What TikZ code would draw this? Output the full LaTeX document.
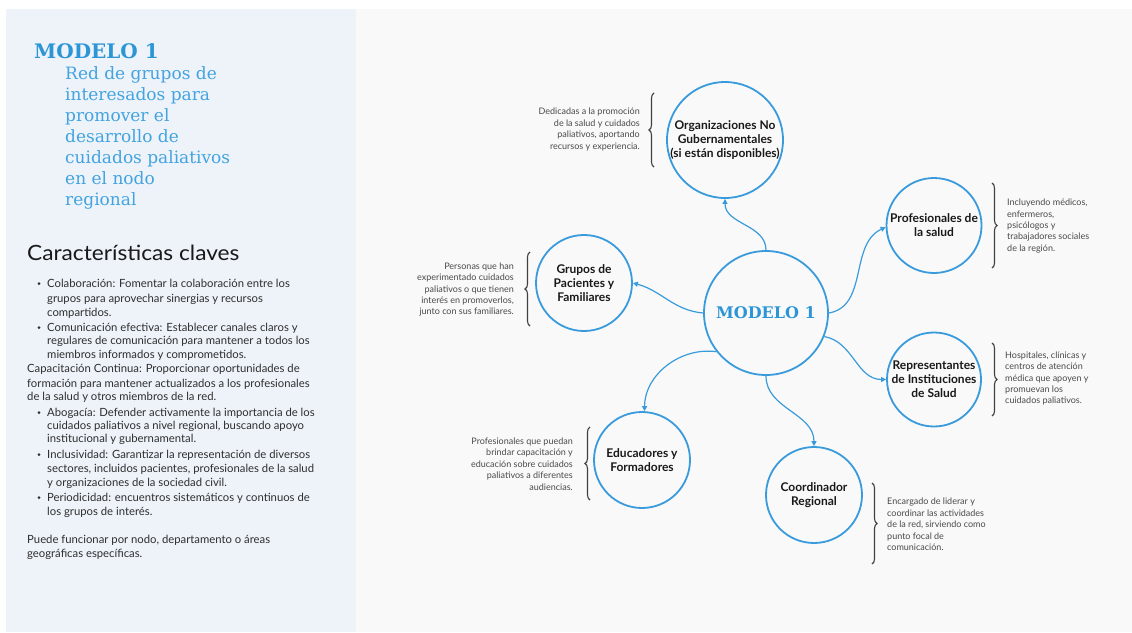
\documentclass[tikz,border=0pt]{standalone}
\usepackage{fontspec}
\setmainfont{Lato}
\newfontfamily\slab{DejaVu Serif}
\newfontfamily\widesans[FakeStretch=1.08]{Lato}
\usetikzlibrary{arrows.meta,decorations.pathreplacing}
\definecolor{leftbg}{HTML}{EEF3FA}
\definecolor{rightbg}{HTML}{F9F9F9}
\definecolor{lineblue}{HTML}{3A9BDC}
\definecolor{titleblue}{HTML}{2B95D6}
\definecolor{subblue}{HTML}{42A3E0}
\definecolor{bodytxt}{HTML}{2E2E2E}
\definecolor{desctxt}{HTML}{4A4A4A}
\tikzset{
  hub/.style={circle, draw=lineblue, line width=1.8pt, fill=rightbg, inner sep=0pt, align=center,
    font=\bfseries\fontsize{12}{14}\selectfont, text=black!90},
  link/.style={draw=lineblue, line width=1.2pt, -{Triangle[length=5pt,width=5pt]}},
  desc/.style={font=\fontsize{9}{11.4}\selectfont, text=desctxt, inner sep=0pt},
  brc/.style={decorate, decoration={brace, amplitude=5pt}, line width=1.1pt, draw=black!75},
  ln/.style={anchor=base west, inner sep=0pt, font=\fontsize{11.3}{14}\selectfont, text=bodytxt},
  sub/.style={anchor=base west, inner sep=0pt, font=\slab\fontsize{17}{21}\selectfont, text=subblue},
  dot/.style={circle, fill=bodytxt, inner sep=0pt, minimum size=3pt}
}
\begin{document}
\begin{tikzpicture}[x=1pt,y=1pt]
\useasboundingbox (0,-632) rectangle (1132,0);
\fill[white] (0,-632) rectangle (1132,0);
\fill[leftbg] (6,-632) rectangle (356,-9);
\fill[rightbg] (356,-632) rectangle (1132,-9);

% left panel
\node[anchor=base west, inner sep=0pt, font=\slab\bfseries\fontsize{20}{24}\selectfont, text=titleblue] (t1) at (34,-58.3) {MODELO 1};
\node[sub] (s1) at (65,-79) {Red de grupos de};
\node[sub] (s2) at (65,-100) {interesados para};
\node[sub] (s3) at (65,-121) {promover el};
\node[sub] (s4) at (65,-142) {desarrollo de};
\node[sub] (s5) at (65,-163) {cuidados paliativos};
\node[sub] (s6) at (65,-184) {en el nodo};
\node[sub] (s7) at (65,-205) {regional};

\node[anchor=base west, inner sep=0pt, font=\widesans\fontsize{21}{24}\selectfont, text=black!90] (hd) at (27,-260.7) {Características claves};

\node[dot] (b1) at (39,-283.5) {};
\node[ln] (l1) at (47,-287) {Colaboración: Fomentar la colaboración entre los};
\node[ln] (l2) at (47,-302) {grupos para aprovechar sinergias y recursos};
\node[ln] (l3) at (47,-316) {compartidos.};
\node[dot] (b2) at (39,-327.5) {};
\node[ln] (l4) at (47,-331) {Comunicación efectiva: Establecer canales claros y};
\node[ln] (l5) at (47,-344) {regulares de comunicación para mantener a todos los};
\node[ln] (l6) at (47,-358) {miembros informados y comprometidos.};
\node[ln] (l7) at (27,-372) {Capacitación Continua: Proporcionar oportunidades de};
\node[ln] (l8) at (27,-387) {formación para mantener actualizados a los profesionales};
\node[ln] (l9) at (27,-400) {de la salud y otros miembros de la red.};
\node[dot] (b3) at (39,-412.5) {};
\node[ln] (l10) at (47,-416) {Abogacía: Defender activamente la importancia de los};
\node[ln] (l11) at (47,-429) {cuidados paliativos a nivel regional, buscando apoyo};
\node[ln] (l12) at (47,-442) {institucional y gubernamental.};
\node[dot] (b4) at (39,-454.5) {};
\node[ln] (l13) at (47,-458) {Inclusividad: Garantizar la representación de diversos};
\node[ln] (l14) at (47,-472) {sectores, incluidos pacientes, profesionales de la salud};
\node[ln] (l15) at (47,-486) {y organizaciones de la sociedad civil.};
\node[dot] (b5) at (39,-497.5) {};
\node[ln] (l16) at (47,-501) {Periodicidad: encuentros sistemáticos y continuos de};
\node[ln] (l17) at (47,-515) {los grupos de interés.};
\node[ln] (l18) at (27,-543) {Puede funcionar por nodo, departamento o áreas};
\node[ln] (l19) at (27,-557) {geográficas específicas.};

% diagram nodes
\node[hub, minimum size=124pt, font=\slab\bfseries\fontsize{16}{18}\selectfont, text=titleblue] (c) at (766,-313) {MODELO 1};
\node[hub, minimum size=116pt] (ong) at (725,-140) {Organizaciones No\\Gubernamentales\\(si están disponibles)};
\node[hub, minimum size=95pt] (prof) at (934,-225.5) {Profesionales de\\la salud};
\node[hub, minimum size=96pt] (grp) at (584,-283) {Grupos de\\Pacientes y\\Familiares};
\node[hub, minimum size=94pt] (repr) at (934,-379.5) {Representantes\\de Instituciones\\de Salud};
\node[hub, minimum size=96pt] (edu) at (642,-460) {Educadores y\\Formadores};
\node[hub, minimum size=96pt] (coord) at (814,-495) {Coordinador\\Regional};

% connectors
\draw[link] (c.90) to[out=90,in=-90] (ong.270);
\draw[link] (c.0) to[out=10,in=205] (prof.182);
\draw[link] (c.-22) to[out=-10,in=180] (repr.180);
\draw[link] (c.180) to[out=175,in=-15] (grp.0);
\draw[link] (c.218) to[out=172,in=90] (edu.87);
\draw[link] (c.270) to[out=-90,in=90] (coord.90);

% descriptions
\node[desc, align=right, anchor=east] (dong) at (640,-129.5) {Dedicadas a la promoción\\de la salud y cuidados\\paliativos, aportando\\recursos y experiencia.};
\node[desc, align=right, anchor=east] (dgrp) at (514,-289.5) {Personas que han\\experimentado cuidados\\paliativos o que tienen\\interés en promoverlos,\\junto con sus familiares.};
\node[desc, align=left, anchor=west] (dprof) at (1007,-226) {Incluyendo médicos,\\enfermeros,\\psicólogos y\\trabajadores sociales\\de la región.};
\node[desc, align=left, anchor=west] (drepr) at (1005,-378.5) {Hospitales, clínicas y\\centros de atención\\médica que apoyen y\\promuevan los\\cuidados paliativos.};
\node[desc, align=right, anchor=east] (dedu) at (573,-464) {Profesionales que puedan\\brindar capacitación y\\educación sobre cuidados\\paliativos a diferentes\\audiencias.};
\node[desc, align=left, anchor=west] (dcoord) at (887,-524.5) {Encargado de liderar y\\coordinar las actividades\\de la red, sirviendo como\\punto focal de\\comunicación.};

% braces
\draw[brc] (654,-167) -- (654,-93);
\draw[brc] (530,-326) -- (530,-252);
\draw[brc] (992,-183) -- (992,-268);
\draw[brc] (992,-343) -- (992,-416);
\draw[brc] (590,-500) -- (590,-427);
\draw[brc] (872,-483) -- (872,-564);
\end{tikzpicture}
\end{document}
